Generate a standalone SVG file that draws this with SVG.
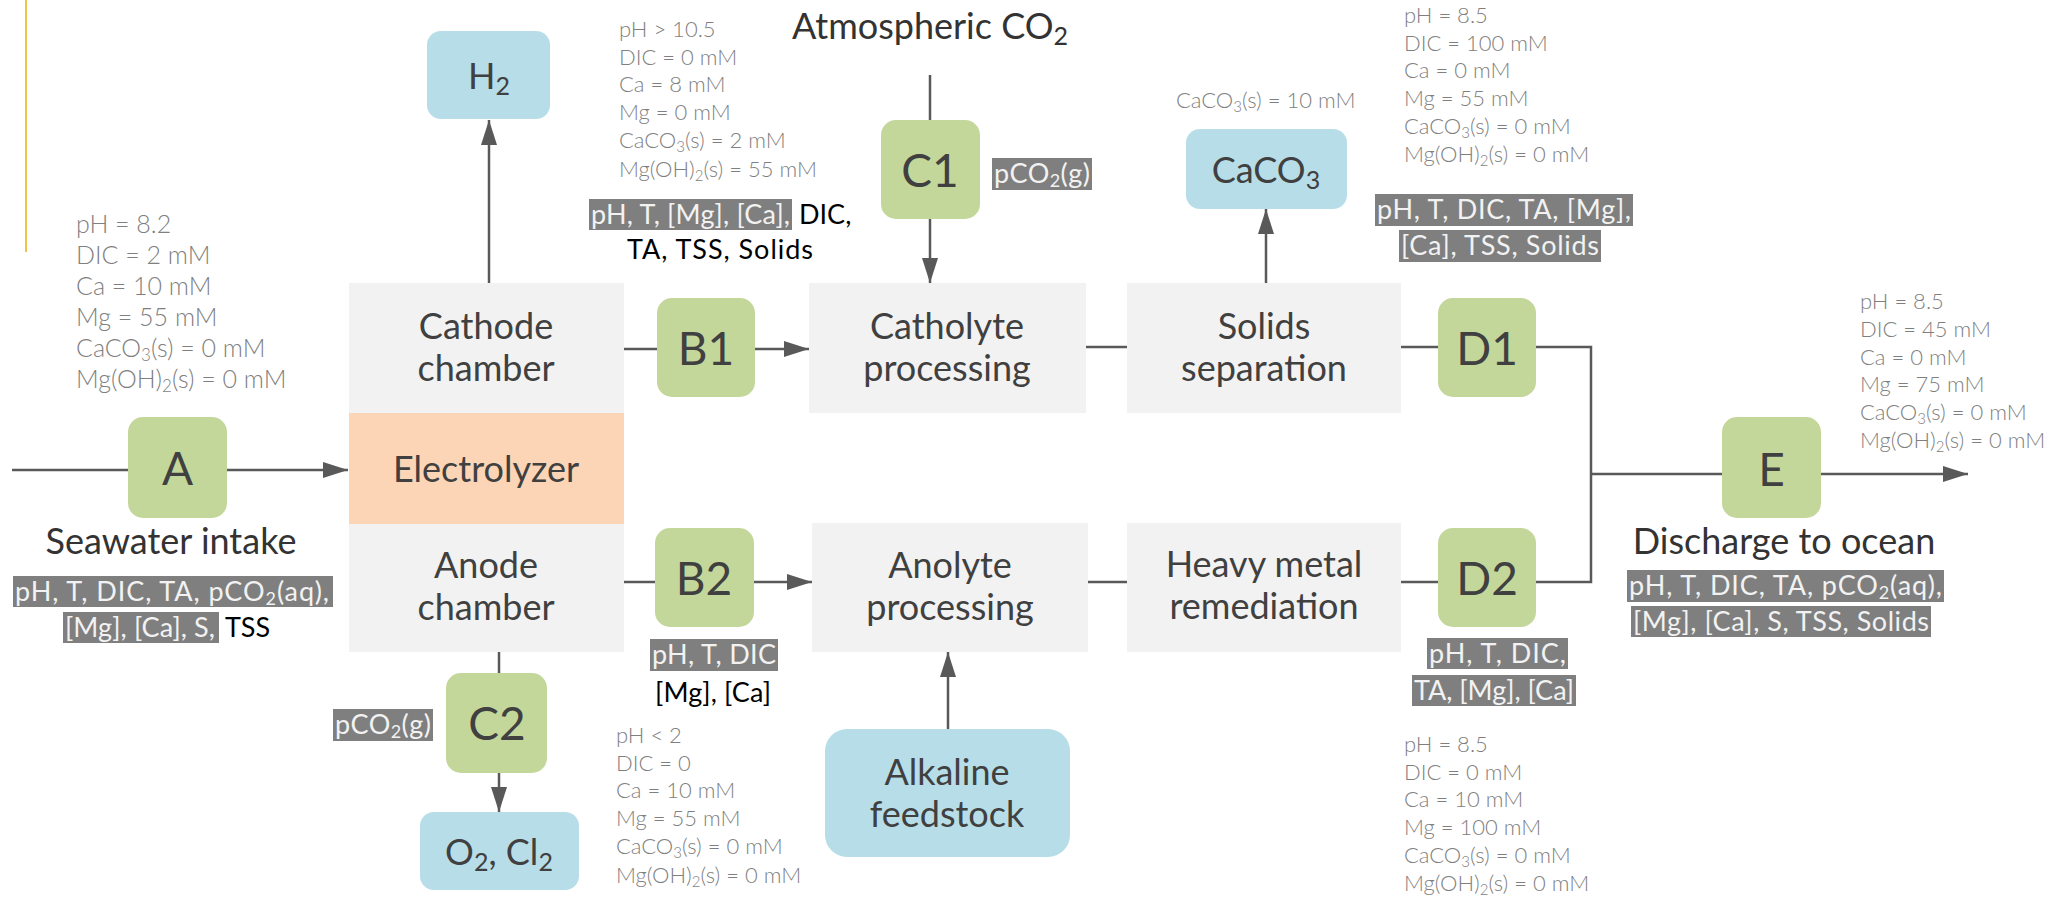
<svg xmlns="http://www.w3.org/2000/svg" width="2067" height="897" viewBox="0 0 2067 897">
<defs>
<marker id="arr" markerUnits="userSpaceOnUse" markerWidth="26" markerHeight="16" refX="25" refY="8" orient="auto">
<path d="M0,0 L25,8 L0,16 z" fill="#595959"/>
</marker>
<style>
.proc{fill:#F2F2F2}
.elec{fill:#FBD5B5}
.grn{fill:#C4D79B}
.blu{fill:#B7DEE8}
.hl{fill:#7F7F7F}
.lbl{font-family:Lato,"Liberation Sans",sans-serif;font-size:36px;fill:#404040;text-anchor:middle}
.big{font-family:Lato,"Liberation Sans",sans-serif;font-size:46px;fill:#404040;text-anchor:middle}
.info{font-family:Lato,"Liberation Sans",sans-serif;font-size:22px;font-weight:300;fill:#7F7F7F}
.infoL{font-family:Lato,"Liberation Sans",sans-serif;font-size:25px;font-weight:300;fill:#7F7F7F}
.meas{font-family:Lato,"Liberation Sans",sans-serif;font-size:27px;fill:#F2F2F2}
.blk{fill:#000000}
.title{font-family:Lato,"Liberation Sans",sans-serif;font-size:36px;fill:#333333;text-anchor:middle}
.con{stroke:#595959;stroke-width:2.5;fill:none}
</style>
</defs>
<rect width="2067" height="897" fill="#FFFFFF"/>
<line x1="26" y1="0" x2="26" y2="252" stroke="#F0C24A" stroke-width="2"/>

<g id="connectors">
<line class="con" x1="12" y1="470" x2="128" y2="470"/>
<line class="con" x1="227" y1="470" x2="348" y2="470" marker-end="url(#arr)"/>
<line class="con" x1="489" y1="283" x2="489" y2="120" marker-end="url(#arr)"/>
<line class="con" x1="624" y1="349" x2="657" y2="349"/>
<line class="con" x1="755" y1="349" x2="809" y2="349" marker-end="url(#arr)"/>
<line class="con" x1="930" y1="75" x2="930" y2="120"/>
<line class="con" x1="930" y1="219" x2="930" y2="283" marker-end="url(#arr)"/>
<line class="con" x1="1086" y1="347" x2="1127" y2="347"/>
<line class="con" x1="1266" y1="283" x2="1266" y2="209" marker-end="url(#arr)"/>
<line class="con" x1="1401" y1="347" x2="1438" y2="347"/>
<polyline class="con" points="1536,347 1591,347 1591,582 1536,582"/>
<line class="con" x1="1590" y1="474" x2="1722" y2="474"/>
<line class="con" x1="1821" y1="474" x2="1968" y2="474" marker-end="url(#arr)"/>
<line class="con" x1="624" y1="582" x2="655" y2="582"/>
<line class="con" x1="754" y1="582" x2="812" y2="582" marker-end="url(#arr)"/>
<line class="con" x1="1088" y1="582" x2="1127" y2="582"/>
<line class="con" x1="1401" y1="582" x2="1438" y2="582"/>
<line class="con" x1="948" y1="729" x2="948" y2="652" marker-end="url(#arr)"/>
<line class="con" x1="499" y1="652" x2="499" y2="673"/>
<line class="con" x1="499" y1="773" x2="499" y2="812" marker-end="url(#arr)"/>
</g>

<g id="seawater-intake">
<text class="title" x="171" y="554">Seawater intake</text>
<rect class="hl" x="13" y="576" width="320" height="31"/>
<rect class="hl" x="63" y="612" width="156" height="31"/>
<text class="meas" x="15" y="601" textLength="314" lengthAdjust="spacing">pH, T, DIC, TA, pCO<tspan font-size="18" dy="4">2</tspan><tspan dy="-4">(aq),</tspan></text>
<text class="meas" x="65" y="637" textLength="150" lengthAdjust="spacing">[Mg], [Ca], S,</text>
<text class="meas blk" x="225" y="637">TSS</text>
</g>

<g id="info-intake">
<text class="infoL" x="76" y="233">pH = 8.2</text>
<text class="infoL" x="76" y="264">DIC = 2 mM</text>
<text class="infoL" x="76" y="295">Ca = 10 mM</text>
<text class="infoL" x="76" y="326">Mg = 55 mM</text>
<text class="infoL" x="76" y="357">CaCO<tspan font-size="17" dy="4">3</tspan><tspan dy="-4">(s) = 0 mM</tspan></text>
<text class="infoL" x="76" y="388">Mg(OH)<tspan font-size="17" dy="4">2</tspan><tspan dy="-4">(s) = 0 mM</tspan></text>
</g>

<g id="A">
<rect class="grn" x="128" y="417" width="99" height="101" rx="15"/>
<text class="big" x="177.5" y="485">A</text>
</g>

<g id="H2">
<rect class="blu" x="427" y="31" width="123" height="88" rx="14"/>
<text class="lbl" x="489" y="89">H<tspan font-size="25" dy="6">2</tspan></text>
</g>

<g id="cathode-chamber">
<rect class="proc" x="349" y="283" width="275" height="130"/>
<text class="lbl" x="486" y="339">Cathode</text>
<text class="lbl" x="486" y="381">chamber</text>
</g>

<g id="electrolyzer">
<rect class="elec" x="349" y="413" width="275" height="111"/>
<text class="lbl" x="486" y="482">Electrolyzer</text>
</g>

<g id="anode-chamber">
<rect class="proc" x="349" y="524" width="275" height="128"/>
<text class="lbl" x="486" y="578">Anode</text>
<text class="lbl" x="486" y="620">chamber</text>
</g>

<g id="C2">
<rect class="grn" x="446" y="673" width="101" height="100" rx="15"/>
<text class="big" x="497" y="740">C2</text>
<rect class="hl" x="333" y="709" width="100" height="32"/>
<text class="meas" x="335" y="734" textLength="96" lengthAdjust="spacing">pCO<tspan font-size="18" dy="4">2</tspan><tspan dy="-4">(g)</tspan></text>
</g>

<g id="O2-Cl2">
<rect class="blu" x="420" y="812" width="159" height="78" rx="14"/>
<text class="lbl" x="499" y="865">O<tspan font-size="25" dy="6">2</tspan><tspan dy="-6">, Cl</tspan><tspan font-size="25" dy="6">2</tspan></text>
</g>

<g id="B1">
<rect class="grn" x="657" y="298" width="98" height="99" rx="15"/>
<text class="big" x="706" y="365">B1</text>
</g>

<g id="info-catholyte-in">
<text class="info" x="619" y="37">pH &gt; 10.5</text>
<text class="info" x="619" y="65">DIC = 0 mM</text>
<text class="info" x="619" y="92">Ca = 8 mM</text>
<text class="info" x="619" y="120">Mg = 0 mM</text>
<text class="info" x="619" y="148">CaCO<tspan font-size="15" dy="4">3</tspan><tspan dy="-4">(s) = 2 mM</tspan></text>
<text class="info" x="619" y="177">Mg(OH)<tspan font-size="15" dy="4">2</tspan><tspan dy="-4">(s) = 55 mM</tspan></text>
<rect class="hl" x="589" y="199" width="203" height="31"/>
<text class="meas" x="591" y="224" textLength="199" lengthAdjust="spacing">pH, T, [Mg], [Ca],</text>
<text class="meas blk" x="799" y="224">DIC,</text>
<text class="meas blk" x="720" y="259" text-anchor="middle" textLength="186" lengthAdjust="spacing">TA, TSS, Solids</text>
</g>

<g id="atmospheric-co2">
<text class="title" x="930" y="39">Atmospheric CO<tspan font-size="25" dy="6">2</tspan></text>
</g>

<g id="C1">
<rect class="grn" x="881" y="120" width="99" height="99" rx="15"/>
<text class="big" x="930" y="187">C1</text>
<rect class="hl" x="992" y="158" width="100" height="32"/>
<text class="meas" x="994" y="183" textLength="96" lengthAdjust="spacing">pCO<tspan font-size="18" dy="4">2</tspan><tspan dy="-4">(g)</tspan></text>
</g>

<g id="catholyte-processing">
<rect class="proc" x="809" y="283" width="277" height="130"/>
<text class="lbl" x="947" y="339">Catholyte</text>
<text class="lbl" x="947" y="381">processing</text>
</g>

<g id="solids-separation">
<rect class="proc" x="1127" y="283" width="274" height="130"/>
<text class="lbl" x="1264" y="339">Solids</text>
<text class="lbl" x="1264" y="381">separation</text>
</g>

<g id="CaCO3">
<text class="info" x="1176" y="108">CaCO<tspan font-size="15" dy="4">3</tspan><tspan dy="-4">(s) = 10 mM</tspan></text>
<rect class="blu" x="1186" y="129" width="161" height="80" rx="14"/>
<text class="lbl" x="1266" y="183">CaCO<tspan font-size="25" dy="6">3</tspan></text>
</g>

<g id="D1">
<rect class="grn" x="1438" y="298" width="98" height="99" rx="15"/>
<text class="big" x="1487" y="365">D1</text>
</g>

<g id="info-D1">
<text class="info" x="1404" y="23">pH = 8.5</text>
<text class="info" x="1404" y="51">DIC = 100 mM</text>
<text class="info" x="1404" y="78">Ca = 0 mM</text>
<text class="info" x="1404" y="106">Mg = 55 mM</text>
<text class="info" x="1404" y="134">CaCO<tspan font-size="15" dy="4">3</tspan><tspan dy="-4">(s) = 0 mM</tspan></text>
<text class="info" x="1404" y="162">Mg(OH)<tspan font-size="15" dy="4">2</tspan><tspan dy="-4">(s) = 0 mM</tspan></text>
<rect class="hl" x="1375" y="194" width="258" height="32"/>
<rect class="hl" x="1399" y="230" width="202" height="32"/>
<text class="meas" x="1377" y="219" textLength="254" lengthAdjust="spacing">pH, T, DIC, TA, [Mg],</text>
<text class="meas" x="1401" y="255" textLength="198" lengthAdjust="spacing">[Ca], TSS, Solids</text>
</g>

<g id="B2">
<rect class="grn" x="655" y="528" width="99" height="99" rx="15"/>
<text class="big" x="704" y="595">B2</text>
<rect class="hl" x="650" y="639" width="128" height="32"/>
<text class="meas" x="652" y="664" textLength="124" lengthAdjust="spacing">pH, T, DIC</text>
<text class="meas blk" x="713" y="702" text-anchor="middle" textLength="116" lengthAdjust="spacing">[Mg], [Ca]</text>
</g>

<g id="info-anolyte-in">
<text class="info" x="616" y="743">pH &lt; 2</text>
<text class="info" x="616" y="771">DIC = 0</text>
<text class="info" x="616" y="798">Ca = 10 mM</text>
<text class="info" x="616" y="826">Mg = 55 mM</text>
<text class="info" x="616" y="854">CaCO<tspan font-size="15" dy="4">3</tspan><tspan dy="-4">(s) = 0 mM</tspan></text>
<text class="info" x="616" y="883">Mg(OH)<tspan font-size="15" dy="4">2</tspan><tspan dy="-4">(s) = 0 mM</tspan></text>
</g>

<g id="anolyte-processing">
<rect class="proc" x="812" y="523" width="276" height="129"/>
<text class="lbl" x="950" y="578">Anolyte</text>
<text class="lbl" x="950" y="620">processing</text>
</g>

<g id="alkaline-feedstock">
<rect class="blu" x="825" y="729" width="245" height="128" rx="22"/>
<text class="lbl" x="947" y="785">Alkaline</text>
<text class="lbl" x="947" y="827">feedstock</text>
</g>

<g id="heavy-metal-remediation">
<rect class="proc" x="1127" y="523" width="274" height="129"/>
<text class="lbl" x="1264" y="577">Heavy metal</text>
<text class="lbl" x="1264" y="619">remediation</text>
</g>

<g id="D2">
<rect class="grn" x="1438" y="528" width="98" height="99" rx="15"/>
<text class="big" x="1487" y="595">D2</text>
<rect class="hl" x="1427" y="638" width="141" height="31"/>
<rect class="hl" x="1412" y="675" width="164" height="31"/>
<text class="meas" x="1429" y="663" textLength="137" lengthAdjust="spacing">pH, T, DIC,</text>
<text class="meas" x="1414" y="700" textLength="160" lengthAdjust="spacing">TA, [Mg], [Ca]</text>
</g>

<g id="info-D2">
<text class="info" x="1404" y="752">pH = 8.5</text>
<text class="info" x="1404" y="780">DIC = 0 mM</text>
<text class="info" x="1404" y="807">Ca = 10 mM</text>
<text class="info" x="1404" y="835">Mg = 100 mM</text>
<text class="info" x="1404" y="863">CaCO<tspan font-size="15" dy="4">3</tspan><tspan dy="-4">(s) = 0 mM</tspan></text>
<text class="info" x="1404" y="891">Mg(OH)<tspan font-size="15" dy="4">2</tspan><tspan dy="-4">(s) = 0 mM</tspan></text>
</g>

<g id="E">
<rect class="grn" x="1722" y="417" width="99" height="101" rx="15"/>
<text class="big" x="1771.5" y="486">E</text>
</g>

<g id="discharge-to-ocean">
<text class="title" x="1784" y="554">Discharge to ocean</text>
<rect class="hl" x="1627" y="570" width="317" height="32"/>
<rect class="hl" x="1631" y="606" width="300" height="31"/>
<text class="meas" x="1629" y="595" textLength="313" lengthAdjust="spacing">pH, T, DIC, TA, pCO<tspan font-size="18" dy="4">2</tspan><tspan dy="-4">(aq),</tspan></text>
<text class="meas" x="1633" y="631" textLength="296" lengthAdjust="spacing">[Mg], [Ca], S, TSS, Solids</text>
</g>

<g id="info-discharge">
<text class="info" x="1860" y="309">pH = 8.5</text>
<text class="info" x="1860" y="337">DIC = 45 mM</text>
<text class="info" x="1860" y="365">Ca = 0 mM</text>
<text class="info" x="1860" y="392">Mg = 75 mM</text>
<text class="info" x="1860" y="420">CaCO<tspan font-size="15" dy="4">3</tspan><tspan dy="-4">(s) = 0 mM</tspan></text>
<text class="info" x="1860" y="448">Mg(OH)<tspan font-size="15" dy="4">2</tspan><tspan dy="-4">(s) = 0 mM</tspan></text>
</g>
</svg>
